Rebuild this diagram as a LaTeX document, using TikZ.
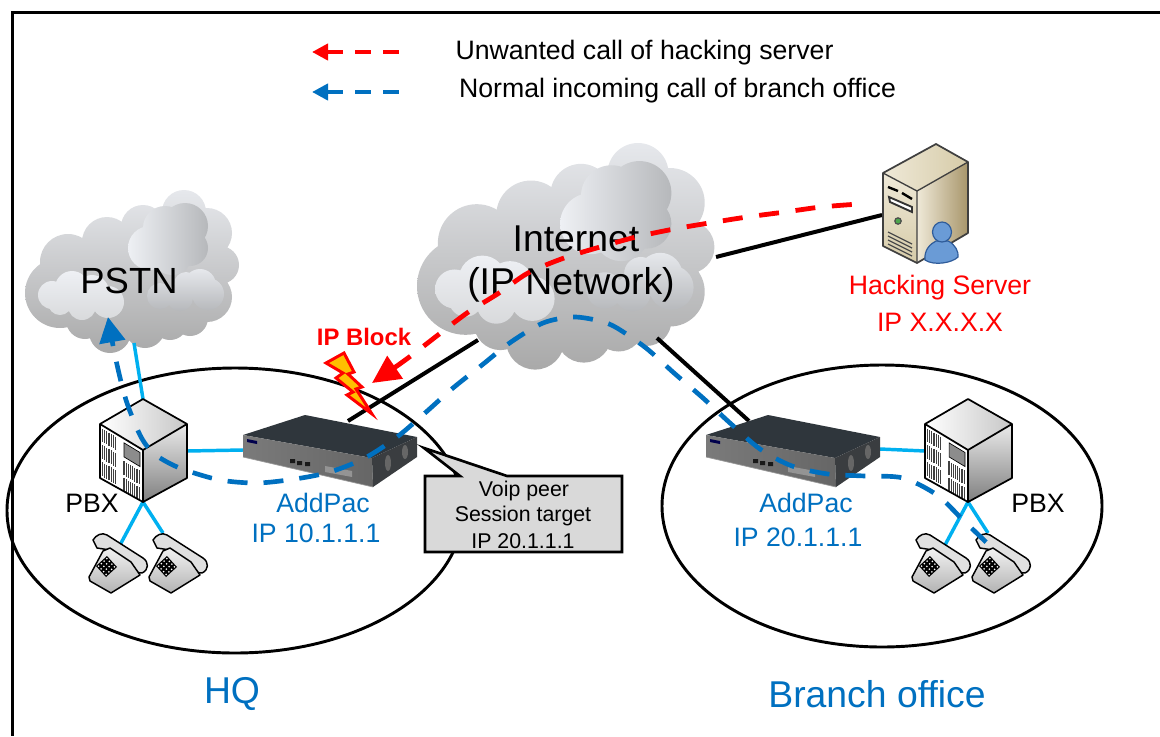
\documentclass[tikz,border=0pt]{standalone}
\usepackage{fontspec}
\setmainfont{Liberation Sans}
\usetikzlibrary{arrows.meta}
\definecolor{lblue}{HTML}{0070C0}
\definecolor{cyanl}{HTML}{00B0F0}
\definecolor{rred}{HTML}{FF0000}
\definecolor{cloudT}{HTML}{E6E8EC}
\definecolor{cloudM}{HTML}{C8CACD}
\definecolor{cloudB}{HTML}{A9A9A9}
\definecolor{cloudL}{HTML}{EEF0F4}
\definecolor{cloudD}{HTML}{B6B8BB}
\definecolor{rtTop}{HTML}{2F363C}
\definecolor{rtSide}{HTML}{3A3D40}
\definecolor{srvA}{HTML}{EFE9D8}
\definecolor{srvB}{HTML}{D6CBA8}
\definecolor{srvC}{HTML}{A8966B}
\definecolor{usrF}{HTML}{6A9BD6}
\definecolor{usrL}{HTML}{2F5C9A}
\tikzset{
 lbl/.style={font=\fontsize{20}{23}\selectfont,inner sep=0pt,align=center},
 big/.style={font=\fontsize{28}{32}\selectfont,inner sep=0pt,align=center},
 small/.style={font=\fontsize{16}{19}\selectfont,inner sep=0pt,align=center},
 wire/.style={line width=3pt,black},
 lan/.style={line width=2.6pt,cyanl},
 bluedash/.style={line width=3.5pt,lblue,dash pattern=on 15pt off 12pt},
 reddash/.style={line width=3.6pt,rred,dash pattern=on 15pt off 12.5pt},
 site/.style={line width=2.2pt,draw=black},
 dev/.style={draw=black,line width=1.3pt,line join=round},
}
\newcommand{\cloudart}{%
 \shade[top color=cloudT,middle color=cloudM,bottom color=cloudB]
  (60,293) circle (35) (68,262) circle (28) (107,242) circle (25) (143,227) circle (22)
  (184,212) circle (22) (207,233) circle (25) (220,265) circle (19) (207,297) circle (25)
  (190,318) circle (18) (110,332) circle (21) (85,320) circle (19) (145,328) circle (20)
  (170,322) circle (18) (130,280) circle (52) (100,290) circle (42) (170,280) circle (42)
  (175,240) circle (35) (135,250) circle (30);
 \shade[left color=cloudL,right color=cloudD]
  (150,248) circle (22) (165,228) circle (22) (185,226) circle (23) (190,248) circle (18) (172,255) circle (20);
 \shade[top color=cloudL,bottom color=cloudM!70!white]
  (52,295) circle (14) (72,288) circle (17) (92,292) circle (17) (108,302) circle (16) (82,306) circle (14) (60,303) circle (12);
 \shade[top color=cloudT,bottom color=cloudD]
  (160,296) circle (13) (180,298) circle (13) (200,285) circle (16) (208,294) circle (16) (186,284) circle (12);
}
\newcommand{\pbxart}{%
 \shade[left color=white,right color=black!22] (0,0)--(-43,25)--(0,51)--(44,25)--cycle;
 \fill[white] (-43,25)--(0,51)--(0,103)--(-43,79)--cycle;
 \shade[top color=black!8,bottom color=black!50] (0,51)--(44,25)--(44,79)--(0,103)--cycle;
 \foreach \va/\vb in {.06/.30,.36/.62,.68/.94}
  \foreach \u in {.06,.11,...,.40}
   \draw[black!75,line width=.9pt] ({-43+\u*43},{25+\u*26+\va*54}) -- ({-43+\u*43},{25+\u*26+\vb*54});
 \foreach \va/\vb in {.42/.68,.73/.98}
  \foreach \u in {.56,.61,...,.93}
   \draw[black!75,line width=.9pt] ({-43+\u*43},{25+\u*26+\va*54}) -- ({-43+\u*43},{25+\u*26+\vb*54});
 \draw[fill=black!45,line width=.5pt] ({-43+.56*43},{25+.56*26+.08*54}) -- ({-43+.93*43},{25+.93*26+.08*54}) -- ({-43+.93*43},{25+.93*26+.34*54}) -- ({-43+.56*43},{25+.56*26+.34*54}) -- cycle;
 \draw[dev] (0,0)--(-43,25)--(-43,79)--(0,103)--(44,79)--(44,25)--cycle;
 \draw[dev] (-43,25)--(0,51)--(44,25) (0,51)--(0,103);
}
\newcommand{\phoneart}{%
 \draw[dev,fill=black!12,line width=1.1pt] (5,6) .. controls (8,1) and (14,-2) .. (19,1) -- (55,24)
   .. controls (61,28) and (61,36) .. (54,39) .. controls (48,40) and (46,34) .. (44,31)
   -- (22,16) -- (9,14) -- cycle;
 \shade[dev,draw=black,line width=1.1pt,top color=black!5,bottom color=black!30]
   (1,43) -- (15,17) -- (22,14) -- (43,28) -- (52,41) -- (23,59) -- (2,47) -- cycle;
 \fill[black] (19,22) -- (29,33) -- (18,43) -- (8,32) -- cycle;
 \foreach \i in {0,1,2,3}\foreach \j in {0,1,2,3}
   \fill[white] ({19+(\i+.5)/4*10-(\j+.5)/4*11},{22+(\i+.5)/4*11+(\j+.5)/4*10}) circle (.9);
}
\newcommand{\routerart}{%
 \fill[rtTop] (243,435)--(305,415)--(417,437)--(372,458)--cycle;
 \shade[left color=black!52,right color=black!60] (243,435)--(372,458)--(373,487)--(243,457)--cycle;
 \fill[rtSide] (372,458)--(417,437)--(417,457)--(373,487)--cycle;
 \fill[black!70!blue] (247,439)--(257,441)--(257,444)--(247,442)--cycle;
 \fill[black!90] (290,459) rectangle (295,463) (297,461) rectangle (302,465) (305,462) rectangle (310,466);
 \fill[black!42] (325,466)--(352,471)--(352,477)--(325,472)--cycle;
 \fill[black!60] (388,463) ellipse (3 and 8) (405,452) ellipse (3 and 7);
 \draw[black!40,line width=.5pt] (243,457)--(373,487);
}
\begin{document}
\begin{tikzpicture}[x=.75pt,y=-.75pt]
\useasboundingbox (0,0) rectangle (1160,736);
\coordinate (frameA) at (1160,12.5);
\coordinate (frameB) at (12.5,12.5);
\coordinate (frameC) at (12.5,736);
\draw[line width=2.3pt,black] (frameA) -- (frameB) -- (frameC);
% clouds
\begin{scope}\cloudart\end{scope}
\begin{scope}[shift={(417,143)},xscale=1.39,yscale=1.39,shift={(-25,-190)}]\cloudart\end{scope}
% sites
\draw[site] (235,510.5) ellipse (228 and 142.5);
\draw[site] (882,506) ellipse (220 and 141);
% anchor points
\coordinate (pstnW) at (134,343);
\coordinate (hqTop) at (143,399);
\coordinate (hqR) at (187,451);
\coordinate (hqRtL) at (243,450);
\coordinate (hqB) at (143,502);
\coordinate (hqPh1) at (120,545);
\coordinate (hqPh2) at (163,533);
\coordinate (brRtR) at (880,449);
\coordinate (brL) at (925,451);
\coordinate (brB) at (968,502);
\coordinate (brPh1) at (945,545);
\coordinate (brPh2) at (988,533);
\coordinate (hqRtT) at (348,421);
\coordinate (inetW) at (478,340);
\coordinate (inetS) at (657,338);
\coordinate (brRtT) at (749,421);
\coordinate (inetE) at (716,257);
\coordinate (srvW) at (882,215);
% connectors under devices
\draw[lan] (pstnW) -- (hqTop);
\draw[lan] (hqR) -- (hqRtL);
\draw[lan] (hqB) -- (hqPh1);
\draw[lan] (hqB) -- (hqPh2);
\draw[lan] (brRtR) -- (brL);
\draw[lan] (brB) -- (brPh1);
\draw[lan] (brB) -- (brPh2);
\draw[wire] (hqRtT) -- (inetW);
\draw[wire] (inetS) -- (brRtT);
\draw[wire] (inetE) -- (srvW);
% devices
\begin{scope}[shift={(143,399)}]\pbxart\end{scope}
\begin{scope}[shift={(968,399)}]\pbxart\end{scope}
\begin{scope}[shift={(88,534)}]\phoneart\end{scope}
\begin{scope}[shift={(148,534)}]\phoneart\end{scope}
\begin{scope}[shift={(911,534)}]\phoneart\end{scope}
\begin{scope}[shift={(971,534)}]\phoneart\end{scope}
\routerart
\begin{scope}[shift={(463,0)}]\routerart\end{scope}
% server
\shade[top color=srvA,bottom color=srvB] (883,173)--(917,191)--(917,263)--(883,246)--cycle;
\shade[left color=srvA,right color=srvB] (936,144)--(883,173)--(917,191)--(968,162)--cycle;
\shade[left color=srvA,right color=srvC] (917,191)--(968,162)--(968,233)--(917,263)--cycle;
\draw[dev,black!75] (936,144)--(883,173)--(883,246)--(917,263)--(968,233)--(968,162)--cycle;
\draw[black!75,line width=1pt] (883,173)--(917,191)--(968,162) (917,191)--(917,263);
\draw[black,line width=1.8pt] (888,187)--(898,191) (902,193)--(912,199);
\draw[black!80,line width=1.4pt,fill=white] (889,197)--(912,207)--(912,212)--(890,202)--cycle;
\draw[black!70,fill=green!50!black!70,line width=.9pt] (898,221) circle (3.2);
\foreach \d in {0,4,8,12}\draw[black!70,line width=.9pt] (888,{232+\d})--(912,{244+\d});
\draw[draw=usrL,fill=usrF,line width=.9pt] (925,260) .. controls (924,250) and (930,244) .. (936,241) -- (948,241) .. controls (955,244) and (959,252) .. (958,257) .. controls (952,263) and (934,266) .. (925,260) -- cycle;
\draw[draw=usrL,fill=usrF,line width=.9pt] (942,232) ellipse (9.5 and 10);
% labels
\node[big,font=\fontsize{27.3}{32}\selectfont] (pstn) at (129,281) {PSTN};
\node[big] (inet1) at (576,239) {Internet};
\node[big] (inet2) at (571,285) {(IP Network)};
\node[lbl] (pbx1) at (92,503) {PBX};
\node[lbl] (pbx2) at (1038,503) {PBX};
\node[lbl,text=lblue] (ap1) at (323,503) {AddPac};
\node[lbl,text=lblue] (ip1) at (316,533) {IP 10.1.1.1};
\node[lbl,text=lblue] (ap2) at (806,503) {AddPac};
\node[lbl,text=lblue] (ip2) at (798,537) {IP 20.1.1.1};
\node[lbl,text=rred] (hs) at (940,288) {Hacking Server};
\node[lbl,text=rred] (hsip) at (940,322) {IP X.X.X.X};
\node[big,text=lblue] (hq) at (232,694) {HQ};
\node[big,text=lblue] (bo) at (877,694) {Branch office};
\node[font=\fontsize{17.9}{21}\selectfont\bfseries,text=rred,inner sep=0pt] (ipb) at (364,337) {IP Block};
\node[lbl] (leg1) at (644.5,53) {Unwanted call of hacking server};
\node[lbl] (leg2) at (677.5,91) {Normal incoming call of branch office};
% callout
\draw[line width=2pt,black,fill=black!15,line join=miter] (425,476) -- (460,476) -- (424,448) -- (507,476) -- (622,476) -- (622,552) -- (425,552) -- cycle;
\node[small] (c1) at (524,491) {Voip peer};
\node[small] (c2) at (523,516) {Session target};
\node[small] (c3) at (523,541) {IP 20.1.1.1};
% lightning
\draw[rred,line width=2.2pt,fill=orange!50!yellow,line join=miter] (326,363)--(344,353)--(354,372)--(348,374)--(362,387)--(356,389)--(372,414)--(347,395)--(353,392)--(336,378)--(343,373)--cycle;
% call paths
\coordinate (bTip) at (108,317);
\coordinate (bEnd) at (987,543);
\coordinate (rTip) at (372,383);
\coordinate (rEnd) at (859,204);
\draw[bluedash,dash phase=11pt,{Triangle[length=19pt,width=19pt]}-] plot[smooth,tension=.5] coordinates {(bTip) (116,360) (126,400) (140,435) (152,452) (167,462) (185,470) (220,480) (257,483) (295,479) (330,472) (365,458) (397,437) (425,413) (453,388) (482,365) (511,342) (543,323) (573,317) (600,321) (617,328) (646,348) (674,373) (703,398) (730,423) (760,449) (792,466) (828,474) (865,476) (903,478) (937,495) (963,520) (bEnd)};
\draw[reddash,{Triangle[length=21pt,width=20pt]}-] plot[smooth,tension=.5] coordinates {(rTip) (408,358) (438,335) (467,313) (499,293) (528,273) (564,258) (600,247) (636,237) (674,229) (709,223) (747,217) (785,212) (821,207) (rEnd)};
% legend
\coordinate (la) at (312,52);
\coordinate (lb) at (402,52);
\coordinate (lc) at (312,92);
\coordinate (ld) at (402,92);
\draw[rred,line width=3.6pt,dash pattern=on 12pt off 9pt,{Triangle[length=12pt,width=12pt]}-] (la) -- (lb);
\draw[lblue,line width=3.4pt,dash pattern=on 12pt off 9pt,{Triangle[length=12pt,width=12pt]}-] (lc) -- (ld);
\end{tikzpicture}
\end{document}
